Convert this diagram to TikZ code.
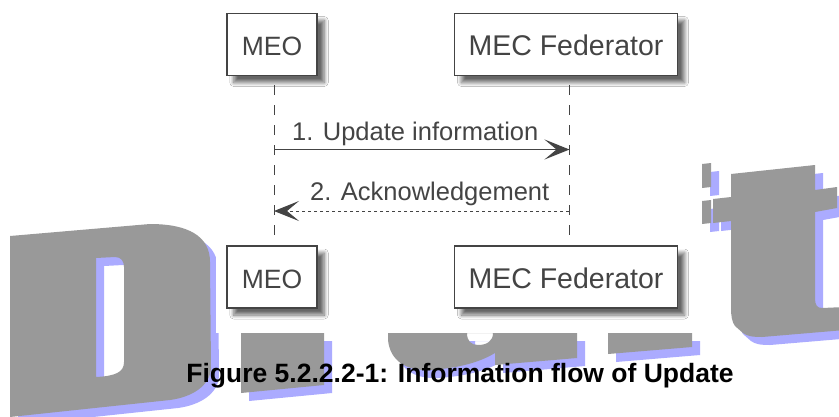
\documentclass[tikz,border=0pt]{standalone}
\usepackage{fontspec}
\setmainfont{Liberation Sans}
\usetikzlibrary{arrows.meta,shadows.blur}
\definecolor{markgrey}{HTML}{999999}
\definecolor{markblue}{HTML}{ABABFF}
\definecolor{inkgrey}{HTML}{444444}
\tikzset{
  actor/.style={draw=inkgrey,line width=1.6pt,fill=white,minimum height=62pt,inner sep=0pt,text height=22pt,text depth=0pt,font=\fontsize{26.5}{26.5}\selectfont,text=inkgrey,
    blur shadow={shadow xshift=7pt,shadow yshift=-7pt,shadow blur steps=8,shadow blur radius=4pt,shadow opacity=60}},
  lifeline/.style={draw=inkgrey,line width=1pt,dash pattern=on 10pt off 10pt},
  msg/.style={font=\fontsize{25.5}{25.5}\selectfont,text=inkgrey,inner sep=0pt},
  msgline/.style={draw=inkgrey,line width=1.2pt,-{Stealth[length=25pt,width=20pt,inset=12pt]}},
  msgdash/.style={draw=inkgrey,line width=1pt,dash pattern=on 3.5pt off 2.5pt,-{Stealth[length=25pt,width=20pt,inset=12pt]}},
}
\newcommand{\markshapes}{%
  % D
  \fill[even odd rule] (10,236) -- (150,224) .. controls (188,224) and (210,236) .. (210,262)
    -- (211,368) .. controls (210,386) and (192,397) .. (170,400) -- (10,417) -- cycle
    (96,258) -- (115,257) .. controls (121,257) and (124,261) .. (124,267) -- (124,362)
    .. controls (124,372) and (116,376) .. (96,377) -- cycle;
  % f fragments
  \fill (702,164) -- (711,163) -- (711,187) -- (702,188) -- cycle;
  \fill (702,201) -- (711,200) -- (711,223) -- (702,224) -- cycle;
  % t
  \fill (731,174) -- (815,165) -- (815,190) -- (837,187) -- (837,208) -- (815,212) -- (815,298)
    .. controls (815,305) and (817,308) .. (822,308) -- (845,307) -- (845,330)
    -- (762,337) .. controls (752,337) and (747,336) .. (743,333) -- (735,326)
    .. controls (732,322) and (731,316) .. (731,308)
    -- (731,221) -- (713,223) -- (713,199) -- (731,197) -- cycle;
  % r base
  \fill (241,333) -- (324,333) -- (324,385) -- (241,393) -- cycle;
  % a base
  \fill[even odd rule] (388,333) -- (577,333) -- (577,358) -- (495,365) -- (495,353)
    .. controls (480,362) and (460,368) .. (430,370) .. controls (405,371) and (390,360) .. (388,340) -- cycle
    (467,333) -- (493,333) .. controls (493,341) and (487,345) .. (478,345) .. controls (471,345) and (467,341) .. (467,333) -- cycle;
  % f base
  \fill (608,333) -- (692,333) -- (692,347) -- (608,354) -- cycle;
}
\begin{document}
\begin{tikzpicture}[x=1pt,y=-1pt]
\useasboundingbox (0,0) rectangle (839,416);
\fill[white] (0,0) rectangle (839,416);
\begin{scope}
  \clip (0,0) rectangle (839,416);
  \begin{scope}[shift={(8,8)},markblue]\markshapes\end{scope}
  \begin{scope}[markgrey]\markshapes\end{scope}
\end{scope}
\fill[white] (216,0) rectangle (702,333);
\node[actor,minimum width=90.5pt] (meoT) at (272,44.5) {MEO};
\node[actor,minimum width=223pt,font=\fontsize{28.5}{28.5}\selectfont] (fedT) at (566,44.5) {MEC Federator};
\node[actor,minimum width=90.5pt] (meoB) at (272,277) {MEO};
\node[actor,minimum width=223pt,font=\fontsize{28.5}{28.5}\selectfont] (fedB) at (566,277) {MEC Federator};
\coordinate (llAt) at (274.5,85);
\coordinate (llAb) at (274.5,237);
\coordinate (llBt) at (569,85);
\coordinate (llBb) at (569,237);
\draw[lifeline] (llAt) -- (llAb);
\draw[lifeline] (llBt) -- (llBb);
\coordinate (a1) at (274.5,149.5);
\coordinate (b1) at (569.5,149.5);
\coordinate (a2) at (274,211);
\coordinate (b2) at (569,211);
\draw[msgline] (a1) -- (b1);
\draw[msgdash] (b2) -- (a2);
\node[msg,anchor=base west] (m1) at (292,140) {1. Update information};
\node[msg,anchor=base west] (m2) at (310,200.5) {2. Acknowledgement};
\node[anchor=base,inner sep=0pt,font=\bfseries\fontsize{26.5}{26.5}\selectfont] (cap) at (460,382) {Figure 5.2.2.2-1: Information flow of Update};
\end{tikzpicture}
\end{document}
